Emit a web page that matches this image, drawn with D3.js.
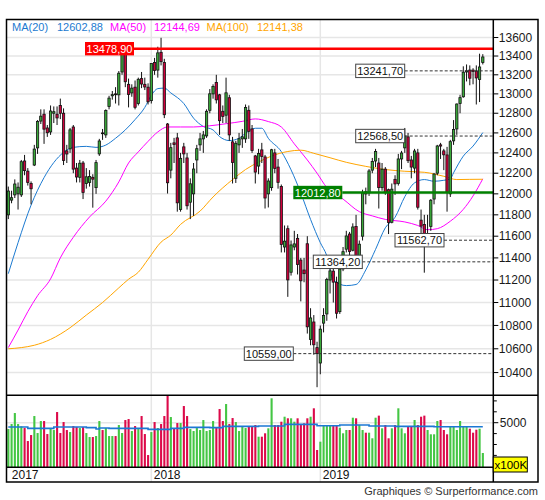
<!DOCTYPE html>
<html><head><meta charset="utf-8">
<script src="https://cdn.jsdelivr.net/npm/d3@7"></script>
<style>body{margin:0;background:#fff;}svg{display:block;font-family:"Liberation Sans",Arial,sans-serif;}</style>
</head><body><svg id="c" width="545" height="500"></svg>
<script>
// ---- DATA (weekly, first week ending 2017-03-03) ----
const firstWeek = "2017-03-03";
const open  = [11800,11940,11990,12000,11990,12320,12220,12100,12280,12450,12720,12790,12650,12610,12800,12790,12880,12800,12420,12440,12660,12250,12160,12300,12100,12110,12160,12060,12390,12600,12580,12870,12980,13000,12990,13230,13480,13100,13010,13070,12900,13160,13100,13070,12930,13330,13250,13440,13330,12690,12230,12500,12550,11850,12460,12350,11920,12000,12330,12480,12540,12570,12830,13000,13120,12990,12820,12780,12960,12510,12150,12480,12540,12540,12830,12640,12370,12270,12430,12360,12000,12060,12400,12260,12070,11500,11670,11270,11500,11580,11380,11290,11530,10680,10830,10610,10480,10820,10900,11200,11280,11180,10920,11300,11480,11620,11470,11690,11350,11600,12020,12010,12230,12320,12300,12060,12240,12040,11730,12140,12100,12340,12450,12560,12330,12250,12400,11750,11710,11560,11690,11950,12200,12480,12420,12380,12000,12520,12640,12900,12970,13230,13250,13250,13240,13150,13330];
const high  = [12070,12030,12140,12110,12330,12380,12250,12120,12480,12730,12840,12840,12680,12880,12870,12870,12951,12850,12480,12650,12680,12300,12330,12320,12250,12230,12190,12330,12540,12640,12840,12980,13030,13070,13240,13526,13500,13160,13100,13140,13170,13230,13170,13110,13320,13380,13500,13597,13370,12700,12500,12550,12600,12400,12500,12400,12150,12300,12480,12600,12620,12840,13050,13100,13200,13000,12880,13170,12990,12560,12520,12600,12640,12890,12880,12680,12380,12440,12500,12380,12150,12440,12440,12340,12090,11700,11700,11560,11650,11620,11400,11400,11600,10950,10890,10660,10800,10950,11220,11330,11330,11230,11330,11500,11650,11640,11720,11800,11560,12040,12060,12240,12350,12440,12350,12300,12260,12050,12100,12180,12390,12420,12650,12600,12370,12440,12440,11850,11800,11800,11950,12200,12480,12500,12440,12460,12530,12730,12900,12990,13290,13310,13300,13270,13300,13425,13420];
const low   = [11760,11910,11960,11850,11970,12180,12080,11900,12270,12390,12690,12490,12560,12580,12700,12680,12740,12280,12300,12400,12200,12110,12110,11950,12050,12070,11868,12000,12370,12530,12550,12840,12940,12900,12880,13200,13070,12860,12970,12840,12880,13060,13040,12890,12900,13200,13170,13300,12750,12003,12150,12300,11830,11830,12300,11850,11760,11790,12200,12420,12400,12550,12800,12950,12900,12580,12700,12700,12520,12100,12105,12400,12450,12500,12540,12400,12100,12190,12300,11860,11870,12030,12200,12050,11450,11450,11050,11240,11470,11250,11010,11180,10730,10630,10550,10279,10386,10740,10840,11080,11000,10860,10900,11280,11450,11330,11460,11300,11300,11560,11900,11980,12200,12260,11860,12030,11990,11620,11720,11990,12080,12240,12400,12300,12150,12200,11850,11570,11266,11530,11650,11900,12180,12340,12230,11830,11970,12480,12580,12800,12960,13130,13090,13100,12890,12915,13310];
const close = [12027,11963,12095,12064,12313,12225,12109,12049,12438,12717,12770,12638,12602,12823,12816,12752,12800,12325,12389,12631,12240,12163,12298,12014,12165,12168,12142,12304,12519,12592,12828,12956,12992,12991,13217,13479,13127,12994,13060,12861,13153,13103,13072,12918,13320,13245,13434,13340,12785,12107,12452,12483,11914,12346,12390,11886,12097,12241,12442,12540,12580,12820,13001,13077,12938,12724,12767,13011,12580,12306,12496,12541,12561,12860,12616,12424,12211,12394,12364,11960,12124,12431,12247,12111,11524,11554,11201,11519,11529,11341,11193,11257,10788,10865,10634,10559,10768,10887,11205,11282,11181,10906,11299,11457,11602,11458,11686,11364,11526,12010,11999,12222,12315,12413,12060,12239,12011,11727,12045,12096,12340,12399,12569,12323,12260,12419,11872,11694,11563,11612,11939,12192,12469,12468,12381,12013,12512,12634,12895,12961,13228,13242,13164,13236,13167,13283,13390];
// volume in x100K
const volume = [4419,4878,5887,4878,4664,4511,3318,3868,5612,4052,5153,5153,3960,4511,4327,5979,4052,5061,4327,4144,4694,4602,4511,4602,4052,3685,3685,3777,5153,4327,4511,3777,3777,3777,4786,4052,5245,5336,4235,4694,4419,5612,3960,2033,4144,5061,4511,4878,5612,7477,5520,4511,4969,4969,6530,5612,4419,4235,4511,4327,5245,4235,4327,5153,4602,6254,5153,6713,4878,5428,5061,4235,4602,4511,4602,4602,4789,3716,3716,4028,4486,7239,4789,4789,5092,5550,5404,5404,5092,5404,4789,4945,5404,5550,6321,2495,3257,4789,4789,4789,4789,4789,4541,4028,4330,4330,5459,5404,4789,4330,4083,4083,3569,5459,5648,4486,4789,3569,4486,4789,6321,4486,4028,4633,4633,5248,4789,5550,5648,4330,3936,3936,5156,5248,4330,3936,4633,4633,4330,5156,4633,4605,4450,4083,4358,4450,2220];
// moving averages (week index, value)
const ma20Idx = [0,3,7,11,14,17,20,24,27,30,33,36,39,42,44,46,48,50,54,57,60,63,65,68,71,73,76,78,80,84,87,90,93,96,98,100,104,107,110,113,116,119,122,125,128,131,134,136,137,140,143,146];
const ma20Val = [11257,11540,11892,12157,12305,12405,12455,12465,12455,12478,12546,12630,12735,12860,12985,13055,13060,13010,12900,12750,12665,12630,12563,12523,12546,12597,12647,12647,12546,12413,12233,12008,11757,11540,11420,11200,11150,11160,11291,11478,11678,11777,11973,12106,12138,12122,12131,12145,12204,12368,12468,12603];
const ma50Idx = [0,3,6,9,13,16,20,25,30,34,37,40,43,46,49,53,57,62,67,72,76,80,84,88,92,95,98,103,108,112,116,122,126,129,132,136,140,143,146];
const ma50Val = [10610,10760,10920,11060,11210,11400,11590,11780,11930,12115,12300,12410,12515,12610,12660,12660,12660,12672,12693,12717,12742,12715,12660,12490,12330,12200,12060,11950,11830,11790,11757,11733,11700,11660,11670,11740,11852,11980,12145];
const ma100Idx = [0,4,8,13,19,24,29,34,37,40,43,47,50,53,59,63,69,73,77,81,86,90,94,99,104,110,116,122,128,134,138,142,146];
const ma100Val = [10600,10610,10630,10680,10780,10890,11000,11130,11207,11270,11387,11545,11610,11710,11835,11970,12138,12236,12309,12369,12414,12427,12396,12352,12307,12267,12236,12219,12209,12170,12138,12140,12141];
const volMaIdx = [0,6,14,24,27,28,31,43,50,54,62,66,77,85,95,102,111,119,131,146];
const volMaVal = [4605,4483,4605,4544,4422,4514,4483,4391,4483,4575,4544,4666,4700,4850,4725,4789,4697,4664,4633,4633];
const legendNames  = ["MA(20)","MA(50)","MA(100)"];
const legendValues = [12602.88,12144.69,12141.38];
const levelValues  = [13478.90,13241.70,12568.50,11562.70,11364.20,10559.00,12012.80];
const levelKinds   = ["max","mark","mark","mark","mark","mark","last"];
const yearLabels = ["2017","2018","2019"];
const yearIdx    = [0,44,96];
const priceTicks = d3.range(10400,13601,200);
const volTicks   = [2000,3000,4000,5000,6000,7000];
const volLabelTicks = [5000];

// ---- LAYOUT ----
const F = {x0:6.5,x1:538,y0:19.5,y1:482};
const P = {x0:6.5,x1:493.3,top:19.5,pBot:395.3,vBot:467.3};
const boxX = [85,355.7,355.7,395,313.3,244.3,293.3];
const boxW = 49, boxH = 13.4;
const legendX = [12,57,110,154,206.6,257];
const C = {up:"#3aaa3a", down:"#d0003c", vup:"#44c644", vdown:"#dc0a4a",
  ma:["#1c7ad0","#ff00ff","#ffa500"], grid:"#e6e6e6", vma:"#1c78d4"};

const loc = d3.formatLocale({decimal:",",thousands:"",grouping:[3],currency:["",""]});
const fmt = loc.format(".2f");

const svg = d3.select("#c");
const n = close.length;
const x = d3.scaleLinear().domain([0,n-1]).range([8.3,482.8]);
const y = d3.scaleLog().domain([10212.5,13797.7]).range([P.pBot,P.top]);
const yv = d3.scaleLinear().domain([908,7514]).range([P.vBot,P.pBot]);

const defs = svg.append("defs");
defs.append("clipPath").attr("id","pc").append("rect").attr("x",P.x0).attr("y",P.top).attr("width",P.x1-P.x0).attr("height",P.pBot-P.top);
defs.append("clipPath").attr("id","vc").append("rect").attr("x",P.x0).attr("y",P.pBot).attr("width",P.x1-P.x0).attr("height",P.vBot-P.pBot);

svg.append("rect").attr("width",545).attr("height",500).attr("fill","#fff");

// grid
const gg = svg.append("g");
gg.selectAll("line.h").data(priceTicks).join("line")
  .attr("x1",P.x0).attr("x2",P.x1).attr("y1",d=>y(d)).attr("y2",d=>y(d))
  .attr("stroke",C.grid).attr("stroke-width",1.5);
gg.append("line").attr("x1",P.x0).attr("x2",P.x1).attr("y1",yv(5000)).attr("y2",yv(5000))
  .attr("stroke",C.grid).attr("stroke-width",1.5);
gg.selectAll("line.v").data(yearIdx.filter(i=>i>0)).join("line")
  .attr("x1",d=>x(d)).attr("x2",d=>x(d)).attr("y1",F.y0).attr("y2",F.y1)
  .attr("stroke",C.grid).attr("stroke-width",1.5);

// price
const pg = svg.append("g").attr("clip-path","url(#pc)");
const maSets = [[ma20Idx,ma20Val],[ma50Idx,ma50Val],[ma100Idx,ma100Val]];
maSets.forEach((s,k)=>{
  const pts = s[0].map((d,j)=>[d,s[1][j]]);
  pg.append("path").datum(pts)
    .attr("d", d3.line().x(d=>x(d[0])).y(d=>y(d[1])).curve(d3.curveMonotoneX))
    .attr("fill","none").attr("stroke",C.ma[k]).attr("stroke-width",1);
});
const idx = d3.range(n);
pg.selectAll("line.w").data(idx).join("line")
  .attr("x1",i=>x(i)).attr("x2",i=>x(i)).attr("y1",i=>y(high[i])).attr("y2",i=>y(low[i]))
  .attr("stroke","#111").attr("stroke-width",1);
pg.selectAll("rect.b").data(idx).join("rect")
  .attr("x",i=>x(i)-1.15).attr("width",2.3)
  .attr("y",i=>y(Math.max(open[i],close[i])))
  .attr("height",i=>Math.max(0.6,Math.abs(y(open[i])-y(close[i]))))
  .attr("fill",i=>close[i]>=open[i]?C.up:C.down)
  .attr("stroke","#111").attr("stroke-width",0.8);

// level lines & labels
const lg = svg.append("g");
levelValues.forEach((v,k)=>{
  const kind = levelKinds[k], yy = y(v), bx = boxX[k];
  const col = kind==="max"?"#ff0000":kind==="last"?"#008000":"#333";
  lg.append("line").attr("x1",bx+boxW).attr("x2",P.x1).attr("y1",yy).attr("y2",yy)
    .attr("stroke",col).attr("stroke-width",kind==="mark"?1:2.5)
    .attr("stroke-dasharray",kind==="mark"?"3,2":null);
  lg.append("rect").attr("x",bx).attr("y",yy-boxH/2).attr("width",boxW).attr("height",boxH)
    .attr("fill",kind==="max"?"#ff0000":kind==="last"?"#008000":"#fff")
    .attr("stroke",kind==="mark"?"#444":"none").attr("stroke-width",1);
  lg.append("text").attr("x",bx+boxW/2).attr("y",yy+4).attr("text-anchor","middle")
    .attr("font-size",11).attr("fill",kind==="mark"?"#111":"#fff").text(fmt(v));
});

// legend
const leg = svg.append("g").attr("font-size",11);
legendNames.forEach((nm,k)=>{
  leg.append("text").attr("x",legendX[2*k]).attr("y",31).attr("fill",C.ma[k]).text(nm);
  leg.append("text").attr("x",legendX[2*k+1]).attr("y",31).attr("fill",C.ma[k]).text(fmt(legendValues[k]));
});

// volume
const vg = svg.append("g").attr("clip-path","url(#vc)");
vg.selectAll("rect.v").data(idx).join("rect")
  .attr("x",i=>x(i)-1).attr("width",2.1)
  .attr("y",i=>yv(volume[i])).attr("height",i=>P.vBot-yv(volume[i]))
  .attr("fill",i=>close[i]>=open[i]?C.vup:C.vdown);
vg.append("path").datum(volMaIdx.map((d,j)=>[d,volMaVal[j]]))
  .attr("d",d3.line().x(d=>x(d[0])).y(d=>yv(d[1])).curve(d3.curveStepAfter))
  .attr("fill","none").attr("stroke",C.vma).attr("stroke-width",1.6);

// frame
const fr = svg.append("g").attr("stroke","#000").attr("stroke-width",1.5).attr("fill","none");
fr.append("rect").attr("x",F.x0).attr("y",F.y0).attr("width",F.x1-F.x0).attr("height",F.y1-F.y0);
fr.append("line").attr("x1",P.x1).attr("x2",P.x1).attr("y1",F.y0).attr("y2",F.y1);
fr.append("line").attr("x1",F.x0).attr("x2",F.x1).attr("y1",P.pBot).attr("y2",P.pBot);
fr.append("line").attr("x1",F.x0).attr("x2",P.x1).attr("y1",P.vBot).attr("y2",P.vBot);

// right axis
const ax = svg.append("g").attr("font-size",12).attr("fill","#1a1a1a");
ax.selectAll("line.pt").data(priceTicks).join("line")
  .attr("x1",P.x1).attr("x2",P.x1+5).attr("y1",d=>y(d)).attr("y2",d=>y(d)).attr("stroke","#000");
ax.selectAll("text.pt").data(priceTicks).join("text")
  .attr("x",P.x1+5.5).attr("y",d=>y(d)+4.2).text(d=>d);
ax.selectAll("line.vt").data(volTicks).join("line")
  .attr("x1",P.x1).attr("x2",d=>P.x1+(volLabelTicks.includes(d)?5:3.5)).attr("y1",d=>yv(d)).attr("y2",d=>yv(d)).attr("stroke","#000");
ax.selectAll("text.vt").data(volLabelTicks).join("text")
  .attr("x",P.x1+6.5).attr("y",d=>yv(d)+4.2).text(d=>d);
svg.append("rect").attr("x",P.x1).attr("y",457).attr("width",34).attr("height",15)
  .attr("fill","#ffff00").attr("stroke","#000").attr("stroke-width",1);
svg.append("text").attr("x",P.x1+1.2).attr("y",468.8).attr("font-size",11.5).attr("fill","#000").text("x100K");

// years
svg.append("g").attr("font-size",12).attr("fill","#111").selectAll("text").data(yearLabels).join("text")
  .attr("x",(d,k)=>Math.max(x(yearIdx[k]),F.x0)+(k===0?3.5:2.5)).attr("y",479).text(d=>d);

// credits
svg.append("text").attr("x",538).attr("y",495).attr("text-anchor","end").attr("font-size",11)
  .attr("fill","#333").text("Graphiques © Surperformance.com");
</script></body></html>
